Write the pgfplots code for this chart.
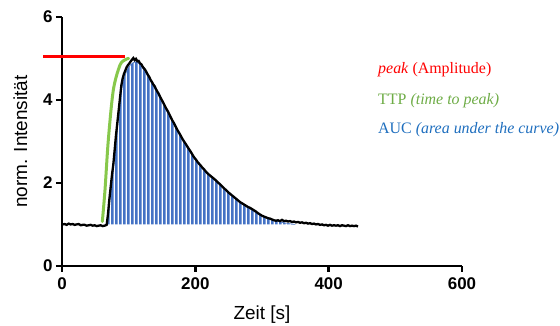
\documentclass[border=0pt]{standalone}
\usepackage{fontspec}
\setmainfont{Liberation Serif}
\setsansfont{Liberation Sans}
\usepackage{pgfplots}
\pgfplotsset{compat=1.18}
\usetikzlibrary{patterns.meta}
\definecolor{myblue}{RGB}{68,114,196}
\definecolor{txtblue}{RGB}{30,110,190}
\definecolor{mygreen}{RGB}{135,200,75}
\definecolor{txtgreen}{RGB}{110,172,70}
\tikzdeclarepattern{
  name=vstripe,
  type=uncolored,
  bounding box={(0pt,0pt) and (4pt,4pt)},
  tile size={(4pt,4pt)},
  code={\fill (0pt,0pt) rectangle (2.7pt,4pt);}
}
\begin{document}
\begin{tikzpicture}
\begin{axis}[
  name=ax, scale only axis, width=400bp, height=249bp,
  xmin=0, xmax=600, ymin=0, ymax=6,
  clip=false,
  axis lines=left,
  axis line style={-, line width=2.5bp, black},
  xtick={0,200,400,600}, ytick={0,2,4,6},
  tick align=outside, major tick length=6bp,
  tick style={black, line width=2.5bp},
  /pgf/number format/assume math mode=true,
  ticklabel style={font=\sffamily\bfseries\fontsize{17}{17}\selectfont},
  xticklabel style={yshift=-2bp},
  label style={font=\sffamily\fontsize{19}{19}\selectfont},
  xlabel={Zeit [s]},
  ylabel={norm. Intensität},
  xlabel shift=10bp,
  ylabel shift=9bp,
]
\coordinate (bbll) at (rel axis cs:-0.155,-0.241);
\coordinate (bbur) at (rel axis cs:1.245,1.068);
% AUC area
\addplot[draw=myblue, line width=0.6bp, pattern={vstripe}, pattern color=myblue] coordinates {
(68,1.0)(70,1.3)(72,1.6)(74,1.9)(76,2.2)(78,2.5)(80,2.85)(82,3.15)(84,3.45)(86,3.75)(88,4.05)(90,4.3)(92,4.45)(94,4.56)(96,4.65)(98,4.73)(100,4.79)(103,4.85)(106,4.89)(109,4.91)(112,4.92)(115,4.88)(118,4.83)(121,4.76)(125,4.67)(130,4.53)(135,4.38)(140,4.24)(145,4.1)(150,3.95)(160,3.64)(170,3.34)(180,3.05)(190,2.79)(200,2.55)(210,2.35)(220,2.18)(230,2.05)(240,1.9)(250,1.75)(260,1.61)(270,1.49)(280,1.39)(290,1.29)(300,1.2)(310,1.14)(320,1.09)(330,1.05)(340,1.02)(350,1.0)
};
% measured curve
\addplot[black, line width=2.3bp] coordinates {
(1,1.00)(4,1.01)(7,0.99)(10,1.02)(13,1.00)(16,1.01)(19,0.99)(22,1.00)(25,1.01)(28,0.98)(31,0.99)(34,0.99)(37,0.97)(40,0.98)(43,0.99)(46,0.97)(49,0.98)(52,0.96)(55,0.97)(58,0.98)(61,0.96)(64,0.97)(67,0.99)(69,1.25)(71,1.6)(73,1.9)(75,2.2)(77,2.45)(79,2.8)(81,3.15)(83,3.45)(85,3.75)(87,4.05)(89,4.35)(91,4.52)(93,4.63)(95,4.71)(97,4.79)(99,4.84)(101,4.88)(103,4.93)(105,4.97)(107,5.01)(109,4.96)(111,4.99)(113,4.93)(115,4.94)(117,4.88)(119,4.86)(121,4.8)(123,4.76)(125,4.72)(127,4.66)(129,4.6)(131,4.55)(133,4.48)(135,4.43)(137,4.37)(139,4.33)(141,4.26)(143,4.2)(145,4.15)(147,4.08)(150,3.99)(153,3.9)(156,3.8)(159,3.72)(162,3.62)(165,3.52)(168,3.44)(171,3.34)(174,3.25)(177,3.17)(180,3.08)(183,3.0)(186,2.93)(189,2.85)(192,2.78)(195,2.7)(198,2.62)(201,2.56)(204,2.49)(207,2.44)(210,2.38)(213,2.33)(216,2.27)(219,2.22)(222,2.18)(225,2.14)(228,2.1)(231,2.06)(234,2.01)(237,1.97)(240,1.92)(243,1.87)(246,1.83)(249,1.78)(252,1.74)(255,1.7)(258,1.66)(261,1.62)(264,1.58)(267,1.54)(270,1.51)(273,1.48)(276,1.45)(279,1.42)(282,1.4)(285,1.37)(288,1.34)(291,1.31)(294,1.27)(297,1.24)(300,1.21)(303,1.19)(306,1.17)(309,1.15)(312,1.14)(315,1.12)(318,1.10)(321,1.09)(324,1.10)(327,1.08)(330,1.11)(333,1.08)(336,1.09)(339,1.07)(342,1.08)(345,1.06)(348,1.07)(351,1.05)(354,1.06)(357,1.04)(360,1.05)(363,1.03)(366,1.04)(369,1.02)(372,1.03)(375,1.01)(378,1.02)(381,1.00)(384,1.01)(387,0.99)(390,1.00)(393,0.98)(396,0.99)(399,0.97)(402,0.99)(405,0.97)(408,0.98)(411,0.97)(414,0.98)(417,0.96)(420,0.98)(423,0.97)(426,0.96)(429,0.98)(432,0.96)(435,0.97)(438,0.96)(441,0.97)(444,0.95)
};
% TTP
\addplot[mygreen, line width=3bp, smooth, line cap=round] coordinates {
(60.5,1.07)(64.5,1.83)(69.5,3.04)(77,4.24)(87,4.84)(95,4.97)(100,5.0)
};
% peak
\addplot[red, line width=3bp] coordinates {(-28,5.04)(94,5.04)};
\node[anchor=west, text=red, font=\fontsize{16}{16}\selectfont, inner sep=0pt] at (axis cs:474,4.72) {\textit{peak} (Amplitude)};
\node[anchor=west, text=txtgreen, font=\fontsize{16}{16}\selectfont, inner sep=0pt] at (axis cs:474,3.98) {TTP \textit{(time to peak)}};
\node[anchor=west, text=txtblue, font=\fontsize{16}{16}\selectfont, inner sep=0pt] at (axis cs:474,3.28) {AUC \textit{(area under the curve)}};
\end{axis}
\pgfresetboundingbox
\path[use as bounding box] (bbll) rectangle (bbur);
\end{tikzpicture}
\end{document}
